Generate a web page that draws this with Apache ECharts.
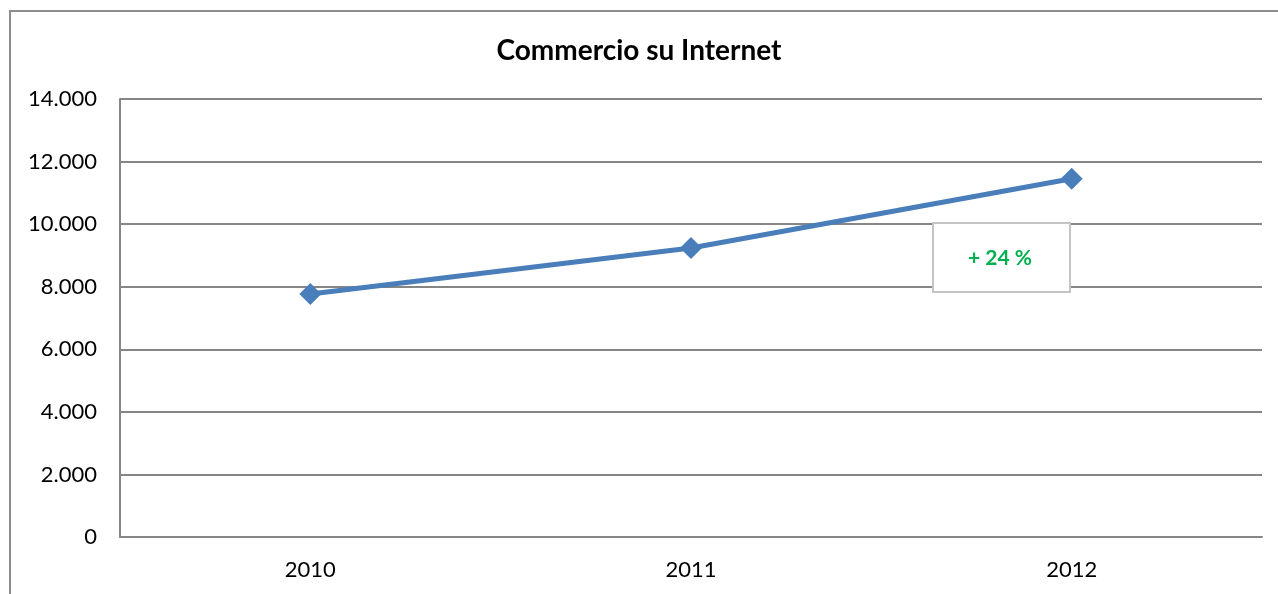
<!DOCTYPE html>
<html><head><meta charset="utf-8">
<script src="https://cdn.jsdelivr.net/npm/echarts@6/dist/echarts.min.js"></script>
<style>html,body{margin:0;padding:0;background:#fff}#c{width:1278px;height:594px}</style>
</head><body><div id="c"></div>
<script>
const categories = ['2010', '2011', '2012'];
const values = [7770, 9240, 11450];
const yTicks = [0, 2000, 4000, 6000, 8000, 10000, 12000, 14000];
const titleText = 'Commercio su Internet';
const noteText = '+ 24 %';

const fmt = v => v === 0 ? '0' : String(v).replace(/\B(?=(\d{3})+(?!\d))/g, '.');
const FONT = 'Lato, "Open Sans", sans-serif';
const chart = echarts.init(document.getElementById('c'), null, {renderer: 'canvas'});
chart.setOption({
  animation: false,
  backgroundColor: '#fff',
  title: {text: titleText, left: 'center', top: 32,
    textStyle: {fontFamily: FONT, fontWeight: 'bold', fontSize: 28, color: '#000'}},
  grid: {left: 120, right: 16, top: 99, bottom: 57, containLabel: false},
  xAxis: {type: 'category', data: categories, boundaryGap: true,
    axisLine: {lineStyle: {color: '#868686', width: 2}},
    axisTick: {show: false},
    axisLabel: {fontFamily: FONT, fontSize: 22, color: '#000', margin: 22}},
  yAxis: {type: 'value', min: yTicks[0], max: yTicks[yTicks.length-1], interval: 2000,
    axisLine: {show: true, lineStyle: {color: '#868686', width: 2}},
    axisTick: {show: false},
    splitLine: {lineStyle: {color: '#868686', width: 2}},
    axisLabel: {fontFamily: FONT, fontSize: 22, color: '#000', margin: 23, formatter: fmt}},
  series: [{type: 'line', data: values, symbol: 'diamond', symbolSize: 22,
    lineStyle: {color: '#4a7ebb', width: 5}, itemStyle: {color: '#4a7ebb'}}],
  graphic: [
    {type: 'rect', shape: {x: 10, y: 11, width: 1300, height: 620}, silent: true,
      style: {fill: 'none', stroke: '#8c8c8c', lineWidth: 2}, z: 100},
    {type: 'rect', shape: {x: 933, y: 223, width: 137, height: 69}, z: 50,
      style: {fill: '#fff', stroke: '#c4c4c4', lineWidth: 2, shadowBlur: 0}},
    {type: 'text', x: 1000, y: 258, z: 51,
      style: {text: noteText, fill: '#00b050', font: 'bold 21px ' + FONT, align: 'center', verticalAlign: 'middle'}}
  ]
});
</script></body></html>
